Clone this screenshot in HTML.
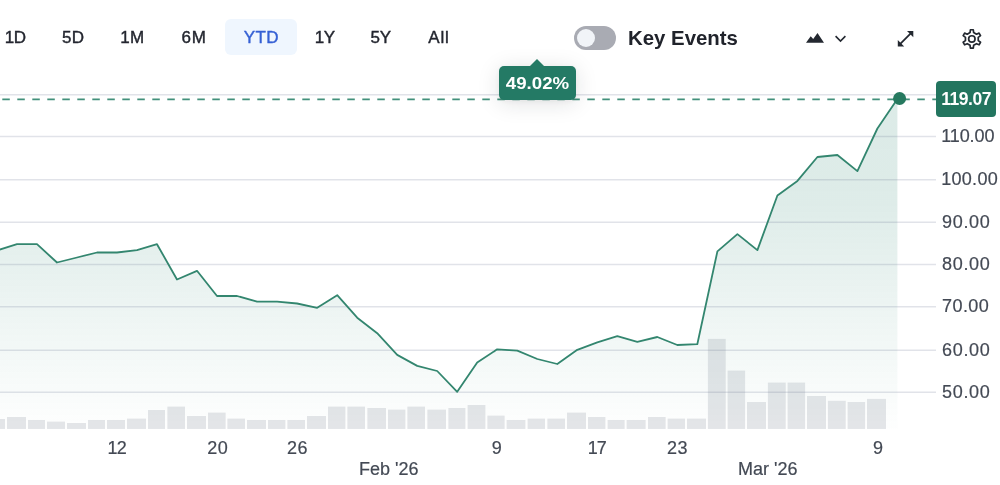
<!DOCTYPE html>
<html><head><meta charset="utf-8"><title>Chart</title>
<style>
html,body{margin:0;padding:0;background:#fff;}
body{width:1000px;height:485px;position:relative;overflow:hidden;font-family:"Liberation Sans",sans-serif;}
svg{position:absolute;left:0;top:0;}
.tab{position:absolute;top:28px;width:60px;height:20px;line-height:20px;text-align:center;font-size:17px;color:#23262f;-webkit-text-stroke:0.4px #23262f;}
.tab.on{color:#3560d4;-webkit-text-stroke:0.4px #3560d4;}
.pill{position:absolute;left:225px;top:19px;width:72px;height:36px;border-radius:6px;background:#eff6fe;}
.toggle{position:absolute;left:574px;top:26px;width:42px;height:24px;border-radius:12px;background:#a9abb3;}
.knob{position:absolute;left:3px;top:3px;width:18px;height:18px;border-radius:9px;background:#f1f4f8;}
.ke{position:absolute;left:628px;top:25px;height:26px;line-height:26px;font-size:20.4px;font-weight:bold;color:#20232b;white-space:nowrap;}
.yl{position:absolute;left:942px;height:20px;line-height:20px;font-size:18px;color:#434954;-webkit-text-stroke:0.2px #434954;white-space:nowrap;}
.xl{position:absolute;top:438px;width:60px;height:20px;line-height:20px;text-align:center;font-size:18px;letter-spacing:0.5px;text-indent:0.5px;-webkit-text-stroke:0.2px #434954;color:#434954;}
.ml{position:absolute;top:459px;height:20px;line-height:20px;font-size:18px;color:#434954;-webkit-text-stroke:0.2px #434954;white-space:nowrap;}
.pct{position:absolute;left:499px;top:66px;width:77px;height:33.5px;border-radius:5px;background:#247a65;box-shadow:0 3px 22px rgba(20,30,40,0.13),0 1px 6px rgba(20,30,40,0.06);}
.pct:before{content:"";position:absolute;left:31px;top:-6.9px;border-left:7px solid transparent;border-right:7px solid transparent;border-bottom:7px solid #247a65;}
.pct span{position:absolute;left:0;right:0;top:8px;height:20px;line-height:20px;text-align:center;color:#fff;font-weight:bold;font-size:16.7px;transform:scaleX(1.12);}
.price{position:absolute;left:936px;top:81px;width:60.3px;height:36px;border-radius:4px;background:#23755f;}
.price span{position:absolute;left:0;right:0;top:8px;height:20px;line-height:20px;text-align:center;color:#fff;font-weight:bold;font-size:17.5px;letter-spacing:-0.45px;}
.wrap{position:absolute;left:0;top:0;width:1000px;height:485px;will-change:transform;}
</style></head><body><div class="wrap">
<svg width="1000" height="485" viewBox="0 0 1000 485">
<defs><linearGradient id="g" x1="0" y1="94" x2="0" y2="429" gradientUnits="userSpaceOnUse">
<stop offset="0" stop-color="#23806a" stop-opacity="0.16"/><stop offset="0.32" stop-color="#23806a" stop-opacity="0.15"/><stop offset="1" stop-color="#23806a" stop-opacity="0.005"/></linearGradient></defs>
<path d="M-3.0,250.4 L17.0,244.2 L37.0,244.2 L57.0,262.5 L77.0,257.5 L97.0,252.5 L117.0,252.5 L137.0,250.2 L157.0,244.2 L177.0,279.5 L197.0,270.8 L217.0,296.0 L237.1,296.0 L257.1,301.6 L277.1,301.6 L297.1,303.5 L317.2,307.8 L337.2,295.2 L357.2,317.7 L377.2,333.2 L397.2,354.9 L417.2,365.9 L437.2,371.0 L457.2,391.8 L477.2,362.4 L497.2,349.3 L517.3,350.7 L537.3,359.0 L557.3,364.0 L577.3,349.8 L597.3,342.3 L617.3,336.2 L637.3,341.8 L657.3,337.0 L677.3,345.0 L697.3,344.2 L717.4,251.4 L737.4,234.1 L757.4,250.1 L777.4,195.5 L797.4,180.9 L817.4,157.0 L837.4,155.0 L857.4,171.1 L877.4,128.5 L897.4,99.0 L897.4,429 L-3,429 Z" fill="url(#g)"/>
<g stroke="rgba(105,115,145,0.2)" stroke-width="1.5"><line x1="0" x2="936" y1="94.7" y2="94.7"/><line x1="0" x2="936" y1="136.6" y2="136.6"/><line x1="0" x2="936" y1="179.8" y2="179.8"/><line x1="0" x2="936" y1="222.3" y2="222.3"/><line x1="0" x2="936" y1="264.5" y2="264.5"/><line x1="0" x2="936" y1="306.7" y2="306.7"/><line x1="0" x2="936" y1="350.2" y2="350.2"/><line x1="0" x2="936" y1="392.3" y2="392.3"/></g>
<g fill="rgba(95,105,125,0.17)"><rect x="-13.0" y="419.0" width="18.0" height="10.0"/><rect x="7.0" y="417.0" width="19.0" height="12.0"/><rect x="28.0" y="420.0" width="17.0" height="9.0"/><rect x="47.0" y="421.6" width="18.0" height="7.4"/><rect x="67.0" y="423.0" width="19.0" height="6.0"/><rect x="88.0" y="420.0" width="17.0" height="9.0"/><rect x="107.0" y="420.0" width="18.0" height="9.0"/><rect x="127.0" y="418.6" width="19.0" height="10.4"/><rect x="148.0" y="410.0" width="17.0" height="19.0"/><rect x="167.4" y="406.6" width="17.6" height="22.4"/><rect x="187.0" y="416.0" width="19.0" height="13.0"/><rect x="208.0" y="412.6" width="17.6" height="16.4"/><rect x="227.4" y="418.6" width="17.6" height="10.4"/><rect x="247.0" y="420.0" width="19.0" height="9.0"/><rect x="268.0" y="420.0" width="17.4" height="9.0"/><rect x="287.4" y="420.0" width="17.6" height="9.0"/><rect x="307.0" y="416.0" width="19.0" height="13.0"/><rect x="328.0" y="406.6" width="17.4" height="22.4"/><rect x="347.4" y="406.6" width="17.6" height="22.4"/><rect x="367.4" y="408.0" width="18.6" height="21.0"/><rect x="388.0" y="409.6" width="17.4" height="19.4"/><rect x="407.4" y="406.6" width="17.6" height="22.4"/><rect x="427.4" y="409.6" width="18.6" height="19.4"/><rect x="448.4" y="408.0" width="17.0" height="21.0"/><rect x="467.6" y="405.0" width="17.8" height="24.0"/><rect x="487.4" y="415.6" width="17.2" height="13.4"/><rect x="506.6" y="420.0" width="18.8" height="9.0"/><rect x="527.6" y="418.6" width="17.4" height="10.4"/><rect x="547.4" y="418.6" width="17.6" height="10.4"/><rect x="567.0" y="412.6" width="19.0" height="16.4"/><rect x="588.0" y="417.0" width="17.4" height="12.0"/><rect x="607.6" y="420.0" width="17.0" height="9.0"/><rect x="626.6" y="420.0" width="19.0" height="9.0"/><rect x="648.0" y="417.0" width="17.6" height="12.0"/><rect x="667.6" y="418.6" width="17.4" height="10.4"/><rect x="687.0" y="418.6" width="19.0" height="10.4"/><rect x="707.9" y="338.9" width="17.8" height="90.1"/><rect x="727.6" y="370.6" width="17.5" height="58.4"/><rect x="747.0" y="402.0" width="19.0" height="27.0"/><rect x="767.9" y="382.6" width="17.8" height="46.4"/><rect x="787.6" y="382.6" width="17.5" height="46.4"/><rect x="807.0" y="396.0" width="19.0" height="33.0"/><rect x="827.9" y="400.8" width="17.8" height="28.2"/><rect x="847.6" y="402.0" width="17.5" height="27.0"/><rect x="867.0" y="398.9" width="19.0" height="30.1"/></g>
<line x1="2.3" x2="940" y1="99.35" y2="99.35" stroke="#42907b" stroke-width="1.6" stroke-dasharray="7.5 7.5"/>
<path d="M-3.0,250.4 L17.0,244.2 L37.0,244.2 L57.0,262.5 L77.0,257.5 L97.0,252.5 L117.0,252.5 L137.0,250.2 L157.0,244.2 L177.0,279.5 L197.0,270.8 L217.0,296.0 L237.1,296.0 L257.1,301.6 L277.1,301.6 L297.1,303.5 L317.2,307.8 L337.2,295.2 L357.2,317.7 L377.2,333.2 L397.2,354.9 L417.2,365.9 L437.2,371.0 L457.2,391.8 L477.2,362.4 L497.2,349.3 L517.3,350.7 L537.3,359.0 L557.3,364.0 L577.3,349.8 L597.3,342.3 L617.3,336.2 L637.3,341.8 L657.3,337.0 L677.3,345.0 L697.3,344.2 L717.4,251.4 L737.4,234.1 L757.4,250.1 L777.4,195.5 L797.4,180.9 L817.4,157.0 L837.4,155.0 L857.4,171.1 L877.4,128.5 L897.4,99.0" fill="none" stroke="#33866f" stroke-width="1.8" stroke-linejoin="round"/>
<circle cx="899.6" cy="98.5" r="6.5" fill="#26795f"/>
<!-- icons -->
<path d="M806,42.8 L810.7,36.3 L813.2,38.9 L817.5,33 L824,42.8 Z" fill="#232830"/>
<path d="M835.6,36.1 L840.5,41 L845.4,36.1" fill="none" stroke="#232830" stroke-width="1.6"/>
<path d="M900,44.2 L911,33.2" stroke="#232830" stroke-width="1.8" fill="none"/>
<path d="M907,31 L913.3,31 L913.3,37.3 Z M897.8,40 L897.8,46.4 L904.2,46.4 Z" fill="#232830"/>
<path d="M970.06,32.60 L970.40,29.76 L973.30,29.76 L973.64,32.60 L976.46,34.22 L979.08,33.10 L980.53,35.62 L978.25,37.33 L978.25,40.57 L980.53,42.28 L979.08,44.80 L976.46,43.68 L973.64,45.30 L973.30,48.14 L970.40,48.14 L970.06,45.30 L967.24,43.68 L964.62,44.80 L963.17,42.28 L965.45,40.57 L965.45,37.33 L963.17,35.62 L964.62,33.10 L967.24,34.22 Z" fill="none" stroke="#232830" stroke-width="1.7" stroke-linejoin="round"/>
<circle cx="971.85" cy="38.95" r="3.2" fill="none" stroke="#232830" stroke-width="1.7"/>
</svg>
<div class="pill"></div>
<div class="tab" style="left:-14.8px;letter-spacing:-0.5px">1D</div><div class="tab" style="left:43.2px;letter-spacing:0.3px">5D</div><div class="tab" style="left:102.3px;letter-spacing:0.2px">1M</div><div class="tab" style="left:164.2px;letter-spacing:1.0px">6M</div><div class="tab on" style="left:231.4px;letter-spacing:0.5px">YTD</div><div class="tab" style="left:294.8px;letter-spacing:-0.3px">1Y</div><div class="tab" style="left:350.8px;letter-spacing:0px">5Y</div><div class="tab" style="left:409.0px;letter-spacing:0.8px">All</div>
<div class="toggle"><div class="knob"></div></div>
<div class="ke">Key Events</div>
<div class="yl" style="top:126.1px;letter-spacing:-0.1px;left:941.2px">110.00</div><div class="yl" style="top:169.3px;letter-spacing:0.3px;left:941.2px">100.00</div><div class="yl" style="top:211.8px;letter-spacing:0.7px;left:942px">90.00</div><div class="yl" style="top:254.0px;letter-spacing:0.7px;left:942px">80.00</div><div class="yl" style="top:296.2px;letter-spacing:0.45px;left:942px">70.00</div><div class="yl" style="top:339.7px;letter-spacing:0.7px;left:942px">60.00</div><div class="yl" style="top:381.8px;letter-spacing:0.7px;left:942px">50.00</div>
<div class="xl" style="left:86.4px;letter-spacing:-0.8px">12</div><div class="xl" style="left:187.4px">20</div><div class="xl" style="left:267.2px">26</div><div class="xl" style="left:466.8px">9</div><div class="xl" style="left:566.6px;letter-spacing:-0.8px">17</div><div class="xl" style="left:647.2px">23</div><div class="xl" style="left:848.0px">9</div>
<div class="ml" style="left:359px">Feb '26</div>
<div class="ml" style="left:738px">Mar '26</div>
<div class="pct"><span>49.02%</span></div>
<div class="price"><span>119.07</span></div>
</div></body></html>
